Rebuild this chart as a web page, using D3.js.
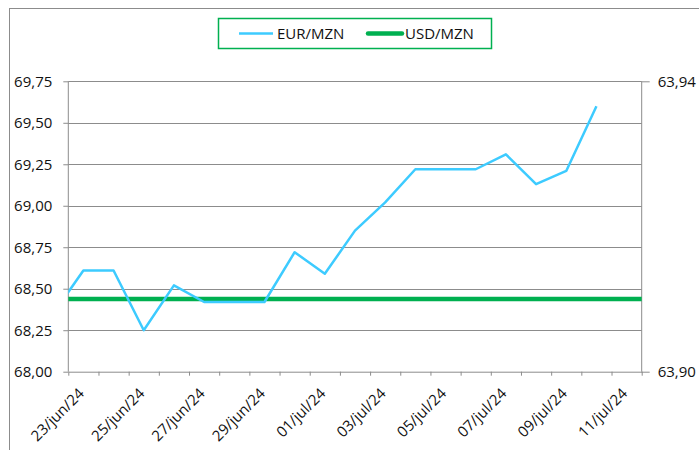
<!doctype html>
<html lang="pt">
<head>
<meta charset="utf-8">
<title>EUR/MZN - USD/MZN</title>
<style>
html, body {
	margin: 0;
	padding: 0;
	background: #fff;
	overflow: hidden;
}
svg text {
	font-family: 'Open Sans', 'Noto Sans', sans-serif;
	fill: #111;
}
.grid line {
	stroke: #8c8c8c;
	stroke-width: 1px;
}
.axis path, .axis line {
	stroke: #8c8c8c;
	stroke-width: 1px;
}
</style>
</head>
<body>
<div id="chart"></div>
<script src="https://cdnjs.cloudflare.com/ajax/libs/d3/7.8.5/d3.min.js"></script>
<script>
// dates of the series (22 jun and 12 jul fall outside the visible axis)
var dates = ['2024-06-22', '2024-06-23', '2024-06-24', '2024-06-25', '2024-06-26', '2024-06-27',
	'2024-06-28', '2024-06-29', '2024-06-30', '2024-07-01', '2024-07-02', '2024-07-03',
	'2024-07-04', '2024-07-05', '2024-07-06', '2024-07-07', '2024-07-08', '2024-07-09',
	'2024-07-10', '2024-07-11', '2024-07-12'];
var eurMzn = [68.35, 68.61, 68.61, 68.25, 68.52, 68.42, 68.42, 68.42, 68.72, 68.59, 68.85, 69.02,
	69.22, 69.22, 69.22, 69.31, 69.13, 69.21, 69.60, null, null];
var usdMzn = [63.91, 63.91, 63.91, 63.91, 63.91, 63.91, 63.91, 63.91, 63.91, 63.91, 63.91, 63.91,
	63.91, 63.91, 63.91, 63.91, 63.91, 63.91, 63.91, 63.91, 63.91];
var axisStart = '2024-06-23';
var axisEnd = '2024-07-11';
var leftTicks = [68.00, 68.25, 68.50, 68.75, 69.00, 69.25, 69.50, 69.75];
var rightTicks = [63.90, 63.94];
var seriesNames = ['EUR/MZN', 'USD/MZN'];

(function (d3) {
	'use strict';

	var W = 699, H = 450;
	var plot = { left: 68.3, right: 641.7, top: 81.3, bottom: 371.7 };

	var parse = d3.utcParse('%Y-%m-%d');
	var fmt = d3.utcFormat('%d/%b/%y');
	var day = d3.utcDay;

	var rows = dates.map(function (d, i) {
		return { date: parse(d), eur: eurMzn[i], usd: usdMzn[i] };
	});

	var start = parse(axisStart), end = parse(axisEnd);
	var x = d3.scaleUtc()
		.domain([d3.utcHour.offset(start, -12), d3.utcHour.offset(end, 12)])
		.range([plot.left, plot.right]);
	var y = d3.scaleLinear()
		.domain([d3.min(leftTicks), d3.max(leftTicks)])
		.range([plot.bottom, plot.top]);
	var y2 = d3.scaleLinear()
		.domain([d3.min(rightTicks), d3.max(rightTicks)])
		.range([plot.bottom, plot.top]);

	var comma = function (v) { return v.toFixed(2).replace('.', ','); };

	var svg = d3.select('#chart').append('svg')
		.attr('width', W)
		.attr('height', H);

	// chart frame
	svg.append('rect')
		.attr('x', 9.5).attr('y', 8.5)
		.attr('width', W).attr('height', H)
		.attr('fill', 'none')
		.attr('stroke', '#8c8c8c');

	// gridlines
	svg.append('g').attr('class', 'grid')
		.selectAll('line').data(leftTicks.slice(1)).enter()
		.append('line')
		.attr('x1', plot.left).attr('x2', plot.right)
		.attr('y1', function (d) { return Math.round(y(d)) + 0.5; })
		.attr('y2', function (d) { return Math.round(y(d)) + 0.5; });

	// left axis
	var gl = svg.append('g').attr('class', 'axis')
		.attr('transform', 'translate(' + plot.left + ',0)')
		.call(d3.axisLeft(y).tickValues(leftTicks).tickSize(5).tickPadding(11).tickFormat(comma));

	// right axis
	var gr = svg.append('g').attr('class', 'axis')
		.attr('transform', 'translate(' + plot.right + ',0)')
		.call(d3.axisRight(y2).tickValues(rightTicks).tickSize(8).tickPadding(8).tickFormat(comma));

	// bottom axis: ticks at day boundaries
	var bounds = day.range(d3.utcHour.offset(start, -12), d3.utcHour.offset(end, 13), 1)
		.map(function (d) { return d3.utcHour.offset(d, 12); });
	bounds.unshift(d3.utcHour.offset(start, -12));
	var gb = svg.append('g').attr('class', 'axis')
		.attr('transform', 'translate(0,' + plot.bottom + ')')
		.call(d3.axisBottom(x).tickValues(bounds).tickSize(4).tickSizeOuter(0).tickFormat(''));

	[gl, gr, gb].forEach(function (g) {
		g.selectAll('text').attr('font-size', 15);
		g.select('.domain').attr('stroke', '#8c8c8c');
	});
	gl.select('.domain').attr('d', 'M0,' + plot.top + 'V' + plot.bottom);
	gr.select('.domain').attr('d', 'M0,' + plot.top + 'V' + plot.bottom);

	// date labels every two days
	var labelDates = day.range(start, day.offset(end, 1), 2);
	svg.append('g').selectAll('text').data(labelDates).enter()
		.append('text')
		.attr('transform', function (d) {
			return 'translate(' + (x(d) - 2) + ',' + (plot.bottom + 19) + ') rotate(-45)';
		})
		.attr('text-anchor', 'end')
		.attr('dy', '0.35em')
		.attr('font-size', 15)
		.text(function (d) { return fmt(d).toLowerCase(); });

	// series
	svg.append('clipPath').attr('id', 'clip')
		.append('rect')
		.attr('x', plot.left).attr('y', plot.top - 10)
		.attr('width', plot.right - plot.left).attr('height', plot.bottom - plot.top + 10);

	var series = svg.append('g').attr('clip-path', 'url(#clip)');

	series.append('path')
		.datum(rows)
		.attr('fill', 'none')
		.attr('stroke', '#00B050')
		.attr('stroke-width', 4.5)
		.attr('d', d3.line()
			.x(function (d) { return x(d.date); })
			.y(function (d) { return y2(d.usd); }));

	series.append('path')
		.datum(rows)
		.attr('fill', 'none')
		.attr('stroke', '#3DCBFF')
		.attr('stroke-width', 2.5)
		.attr('stroke-linejoin', 'round')
		.attr('d', d3.line()
			.defined(function (d) { return d.eur !== null; })
			.x(function (d) { return x(d.date); })
			.y(function (d) { return y(d.eur); }));

	// legend
	var lg = svg.append('g');
	lg.append('rect')
		.attr('x', 218.5).attr('y', 18.5)
		.attr('width', 273).attr('height', 30)
		.attr('fill', '#fff')
		.attr('stroke', '#00B050')
		.attr('stroke-width', 1.5);
	lg.append('line')
		.attr('x1', 239).attr('x2', 273).attr('y1', 33.5).attr('y2', 33.5)
		.attr('stroke', '#3DCBFF').attr('stroke-width', 2.5);
	lg.append('text')
		.attr('x', 277).attr('y', 33.5).attr('dy', '0.35em')
		.attr('font-size', 15)
		.text(seriesNames[0]);
	lg.append('line')
		.attr('x1', 368).attr('x2', 402).attr('y1', 33.5).attr('y2', 33.5)
		.attr('stroke', '#00B050').attr('stroke-width', 4.5)
		.attr('stroke-linecap', 'round');
	lg.append('text')
		.attr('x', 405).attr('y', 33.5).attr('dy', '0.35em')
		.attr('font-size', 15)
		.text(seriesNames[1]);

})(window.d3);
</script>
</body>
</html>
